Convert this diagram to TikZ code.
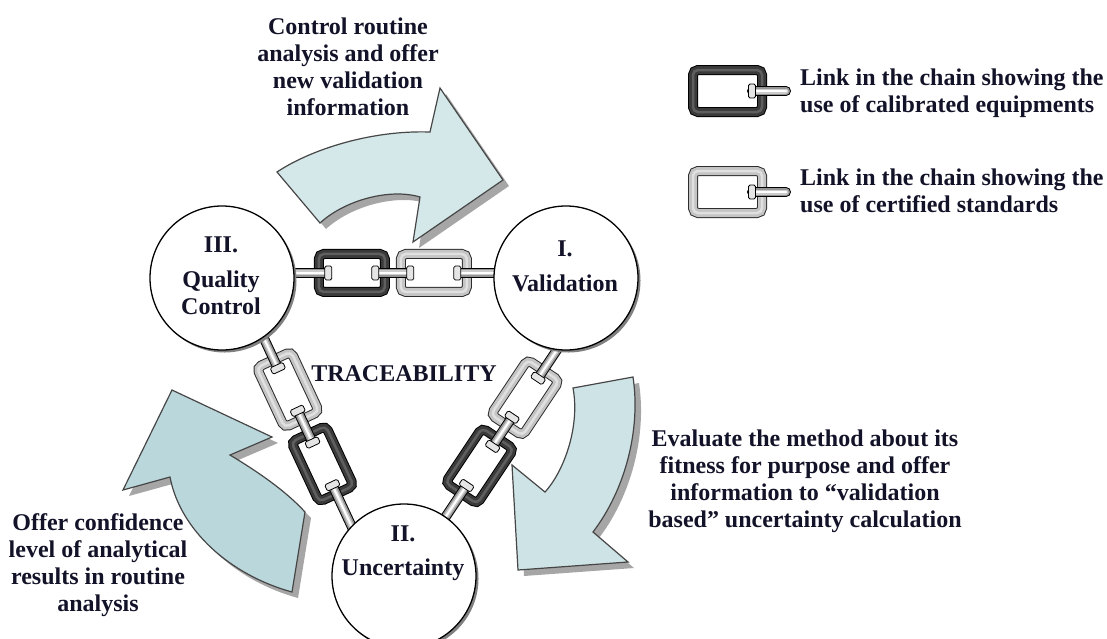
\documentclass[tikz,border=0pt]{standalone}
\usepackage{fontspec}
\setmainfont{Liberation Serif}
\usetikzlibrary{shadows,backgrounds}

\definecolor{ink}{RGB}{18,18,40}
\definecolor{darkedge}{RGB}{0,0,0}
\definecolor{darkbody}{RGB}{58,58,58}
\definecolor{darkshine}{RGB}{95,95,95}
\definecolor{lightedge}{RGB}{45,45,45}
\definecolor{lightbody}{RGB}{196,196,196}
\definecolor{lightshine}{RGB}{224,224,224}
\definecolor{arrowtop}{RGB}{212,231,233}
\definecolor{arrowright}{RGB}{206,227,230}
\definecolor{arrowleft}{RGB}{186,215,220}
\definecolor{arrowline}{RGB}{70,70,70}

% one chain link: centre (#1,#2), half sizes #3 x #4 of its centre line, colour set #5
\newcommand\ringlink[5]{%
  \draw[#5edge, line width=10pt, rounded corners=5pt] (#1-#3,#2-#4) rectangle (#1+#3,#2+#4);
  \draw[#5body, line width=8pt, rounded corners=5pt] (#1-#3,#2-#4) rectangle (#1+#3,#2+#4);
  \draw[#5shine, line width=2.5pt, rounded corners=5pt] (#1-#3,#2-#4) rectangle (#1+#3,#2+#4);
}
% a shiny rod along the local x axis
\newcommand\barpiece[2]{%
  \draw[black, line width=10pt] (#1,0) -- (#2,0);
  \draw[black!42, line width=8pt] (#1,0) -- (#2,0);
  \draw[black!20, line width=5pt] (#1,0) -- (#2,0);
  \draw[white, line width=2pt] (#1,0) -- (#2,0);
}
% the small end piece of a rod inside a link
\newcommand\barcap[1]{%
  \draw[black, line width=0.8pt, fill=black!10, rounded corners=1.5pt] (#1-3.5,-7) rectangle (#1+3.5,7);
}
% two links and three rods, starting at #1 and heading in direction #2
\newcommand\linkchain[4]{%
  \begin{scope}[shift={#1}, rotate=#2]
    \ringlink{58}{0}{33}{19}{#3}
    \ringlink{140}{0}{33}{19}{#4}
    \barpiece{-20}{34.5}
    \barpiece{81.5}{116.5}
    \barpiece{163.5}{228}
    \barcap{34.5}\barcap{81.5}\barcap{116.5}\barcap{163.5}
  \end{scope}}

\tikzset{
  caption/.style={font=\fontsize{24}{27}\selectfont\bfseries, text=ink, inner sep=0pt, align=center},
  station/.style={circle, draw=black, line width=1.3pt, fill=white, minimum size=144pt,
    inner sep=0pt, outer sep=0pt,
    drop shadow={shadow xshift=2.5pt, shadow yshift=-2.5pt, fill=black!50, opacity=1}},
  bigarrow/.style={draw=arrowline, line width=1.2pt, line join=miter,
    drop shadow={shadow xshift=6pt, shadow yshift=-6pt, fill=black!35, opacity=1}}
}

\begin{document}
\begin{tikzpicture}[x=1pt, y=-1pt]
\useasboundingbox (0,0) rectangle (1107,638);

% the three stages
\node[station] (qc)  at (222,278) {};
\node[station] (val) at (566,278) {};
\node[station] (unc) at (404,576) {};

\begin{pgfonlayer}{background}
  % curved process arrows
  \draw[bigarrow, fill=arrowtop] (277,172) .. controls (310,150) and (370,130) .. (430,132)
     -- (440,88) -- (503,180) -- (413,242) -- (420,197)
     .. controls (390,188) and (345,200) .. (320,223) -- cycle;
  \draw[bigarrow, fill=arrowright] (573,388) -- (633,377)
     .. controls (641,430) and (625,490) .. (593,532)
     -- (628,562) -- (518,570) -- (512,465) -- (545,492)
     .. controls (565,470) and (580,425) .. (573,388) -- cycle;
  \draw[bigarrow, fill=arrowleft] (172,390) -- (272,437) -- (230,455)
     .. controls (255,470) and (285,490) .. (305,512) -- (292,592)
     .. controls (230,575) and (180,530) .. (170,477) -- (123,490) -- cycle;

  % traceability chains between the stages
  \linkchain{(qc.4.8)}{0}{dark}{light}
  \linkchain{(qc.-55.7)}{-65}{light}{dark}
  \linkchain{(val.-97.2)}{-123.7}{light}{dark}
\end{pgfonlayer}

% stage labels
\node[caption, anchor=north] (qclabel)  at (221,236.5) {III.\\[8pt]Quality\\Control};
\node[caption, anchor=north] (vallabel) at (565,240.5) {I.\\[8pt]Validation};
\node[caption, anchor=north] (unclabel) at (403,525.5) {II.\\[7pt]Uncertainty};
\node[caption, anchor=base] (trace) at (404,381) {TRACEABILITY};

% arrow captions
\node[caption, anchor=north] (ctrltxt) at (348,17.5)
  {Control routine\\analysis and offer\\new validation\\information};
\node[caption, anchor=north] (evaltxt) at (805,429.5)
  {Evaluate the method about its\\fitness for purpose and offer\\information to “validation\\based” uncertainty calculation};
\node[caption, anchor=north] (conftxt) at (98,513.5)
  {Offer confidence\\level of analytical\\results in routine\\analysis};

% legend
\ringlink{727.5}{91}{34.5}{21}{dark}
\begin{scope}[shift={(0,91)}, line cap=round]
  \barpiece{752}{786}
\end{scope}
\begin{scope}[shift={(0,91)}]\barcap{752}\end{scope}
\ringlink{727.5}{192}{34.5}{21}{light}
\begin{scope}[shift={(0,192)}, line cap=round]
  \barpiece{752}{786}
\end{scope}
\begin{scope}[shift={(0,192)}]\barcap{752}\end{scope}
\node[caption, align=left, anchor=north west] (legdark) at (800,68.5)
  {Link in the chain showing the\\use of calibrated equipments};
\node[caption, align=left, anchor=north west] (leglight) at (800,168.5)
  {Link in the chain showing the\\use of certified standards};
\end{tikzpicture}
\end{document}
